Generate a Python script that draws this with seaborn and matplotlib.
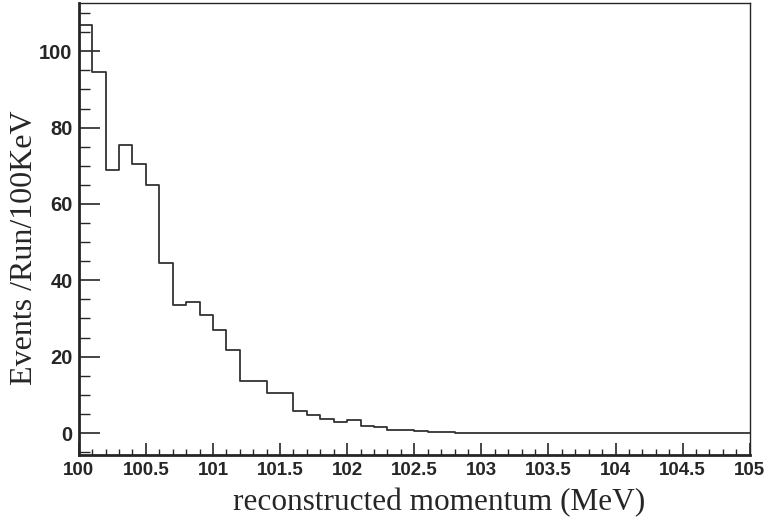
import numpy as np
import pandas as pd
import matplotlib
matplotlib.use('Agg')
import matplotlib.pyplot as plt
from matplotlib.ticker import MultipleLocator
import seaborn as sns

# 0.1 MeV bins from 100 to 105
bin_edges = [round(100.0 + 0.1 * i, 2) for i in range(51)]
bin_centers = [round(100.05 + 0.1 * i, 3) for i in range(50)]
counts = [107, 94.5, 69, 75.5, 70.5, 65, 44.5, 33.5, 34.3, 31,
          27, 21.8, 13.5, 13.5, 10.5, 10.5, 5.7, 4.8, 3.8, 3.0,
          3.4, 1.8, 1.5, 0.9, 0.8, 0.5, 0.4, 0.2, 0.1, 0.05,
          0, 0, 0, 0, 0, 0, 0, 0, 0, 0,
          0, 0, 0, 0, 0, 0, 0, 0, 0, 0]

x_ticks = [100, 100.5, 101, 101.5, 102, 102.5, 103, 103.5, 104, 104.5, 105]
x_ticklabels = ['100', '100.5', '101', '101.5', '102', '102.5',
                '103', '103.5', '104', '104.5', '105']
x_label = 'reconstructed momentum (MeV)'
y_label = 'Events /Run/100KeV'

df = pd.DataFrame({'momentum': bin_centers, 'events': counts})

sns.set_style('ticks')
plt.rcParams['font.family'] = ['Liberation Sans', 'DejaVu Sans']

fig = plt.figure(figsize=(7.65, 5.25), dpi=100)
ax = fig.add_axes([0.103, 0.133, 0.877, 0.861])

sns.histplot(data=df, x='momentum', weights='events', bins=bin_edges,
             element='step', fill=False, color='#333333', linewidth=1.3, ax=ax)

ax.set_xlim(100, 105)
ax.set_ylim(-5.8, 112.6)

ax.set_xticks(x_ticks)
ax.set_xticklabels(x_ticklabels)
ax.xaxis.set_minor_locator(MultipleLocator(0.1))
ax.yaxis.set_major_locator(MultipleLocator(20))
ax.yaxis.set_minor_locator(MultipleLocator(5))

ax.tick_params(axis='x', which='major', direction='in', length=9, width=1.2,
               pad=5, labelsize=13.5)
ax.tick_params(axis='x', which='minor', direction='in', length=4.5, width=1)
ax.tick_params(axis='y', which='major', direction='in', length=15, width=1.2,
               pad=4.5, labelsize=14.5)
ax.tick_params(axis='y', which='minor', direction='in', length=8, width=1)
for lab in ax.get_xticklabels() + ax.get_yticklabels():
    lab.set_fontweight('bold')

for side in ['left', 'bottom']:
    ax.spines[side].set_linewidth(2)
for side in ['top', 'right']:
    ax.spines[side].set_visible(True)
    ax.spines[side].set_linewidth(1)

ax.set_xlabel(x_label, family=['Liberation Serif', 'DejaVu Serif'], fontsize=22.5)
ax.set_ylabel(y_label, family=['Liberation Serif', 'DejaVu Serif'], fontsize=23)
ax.xaxis.set_label_coords(0.537, -0.073)
ax.yaxis.set_label_coords(-0.059, 0.46)

fig.savefig('out.png', dpi=100)
